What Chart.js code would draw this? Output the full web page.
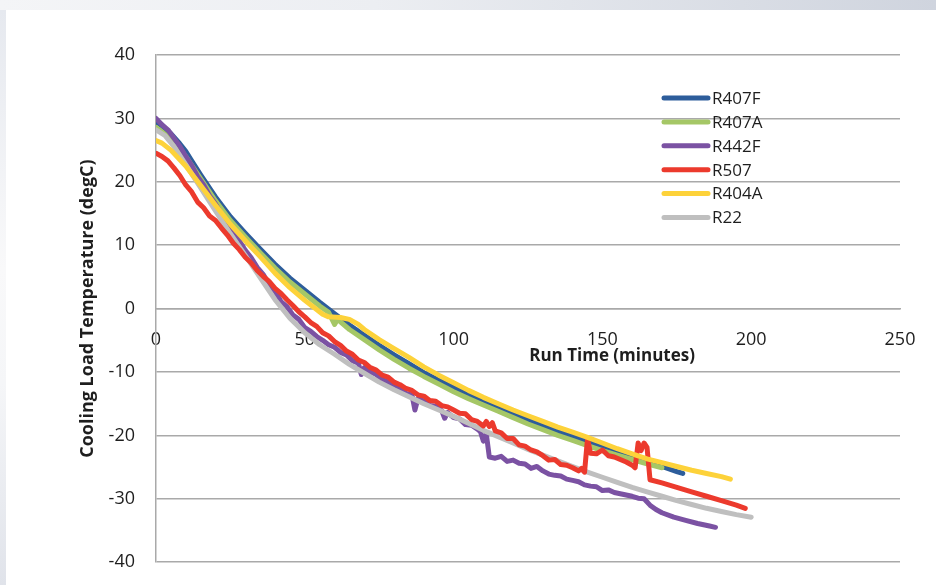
<!DOCTYPE html>
<html>
<head>
<meta charset="utf-8">
<script src="https://cdn.jsdelivr.net/npm/chart.js@4.4.1/dist/chart.umd.min.js"></script>
<style>
  html, body { margin: 0; padding: 0; }
  body {
    width: 936px; height: 585px; overflow: hidden; position: relative;
    background: linear-gradient(to right, #f4f5f7 0%, #eceef2 40%, #cfd4de 100%);
  }
  #edge {
    position: absolute; left: 0; top: 10px; width: 6px; height: 575px;
    background: linear-gradient(to bottom, #e6e9ef, #f9f9fa 45%, #f5f6f8 65%, #e0e3ea);
  }
  #panel { position: absolute; left: 6px; top: 10px; width: 930px; height: 575px; background: #fff; overflow: hidden; }
</style>
</head>
<body>
<div id="edge"></div>
<div id="panel"><canvas id="chart" width="930" height="584"></canvas></div>
<script>
// Data (minutes, degC)
const r407fMinutes = [0, 2, 5, 8, 10, 12, 15, 20, 25, 30, 35, 40, 45, 50, 55, 60, 65, 70, 75, 80, 85, 90, 95, 100, 105, 110, 115, 120, 125, 130, 135, 140, 145, 150, 155, 160, 165, 170, 175, 177]
const r407fTemp = [29.5, 28.8, 27.6, 26.0, 24.8, 23.3, 21.1, 17.6, 14.5, 11.9, 9.4, 7.0, 4.8, 2.9, 1.0, -0.8, -2.6, -4.2, -5.8, -7.3, -8.7, -10.1, -11.3, -12.5, -13.6, -14.7, -15.6, -16.6, -17.5, -18.4, -19.3, -20.1, -20.9, -21.7, -22.5, -23.3, -24.0, -24.9, -25.7, -26.0]

const r407aMinutes = [0, 2, 5, 8, 10, 12, 15, 20, 25, 30, 35, 40, 45, 50, 55, 58, 60, 61, 65, 70, 75, 80, 85, 90, 95, 100, 105, 110, 115, 120, 125, 130, 135, 140, 145, 150, 155, 160, 165, 170]
const r407aTemp = [28.6, 27.9, 26.7, 25.2, 24.0, 22.6, 20.5, 17.0, 13.9, 11.3, 8.8, 6.4, 4.2, 2.3, 0.4, -0.6, -2.5, -1.7, -3.3, -4.9, -6.5, -8.0, -9.4, -10.7, -11.9, -13.1, -14.2, -15.2, -16.2, -17.2, -18.2, -19.1, -20.0, -20.8, -21.6, -22.4, -23.1, -23.8, -24.5, -25.1]

const r442fMinutes = [0, 2, 4, 6, 8, 10, 12, 14, 16, 18, 20, 22, 24, 26, 28, 30, 32, 34, 36, 38, 40, 42, 44, 46, 48, 50, 52, 54, 56, 58, 60, 62, 64, 66, 68, 69, 70, 72, 74, 76, 78, 80, 82, 84, 86, 87, 88, 90, 92, 94, 96, 97, 98, 100, 102, 104, 106, 108, 109, 110, 111, 112, 114, 116, 118, 120, 122, 124, 126, 128, 130, 132, 134, 136, 138, 140, 142, 144, 146, 148, 150, 152, 154, 156, 158, 160, 162, 164, 166, 168, 170, 174, 178, 182, 186, 188]
const r442fTemp = [30.0, 29.0, 28.2, 26.9, 25.6, 24.0, 22.6, 20.8, 19.5, 17.8, 16.5, 14.9, 13.5, 12.0, 10.7, 9.2, 8.0, 6.5, 5.4, 3.8, 2.7, 1.1, 0.3, -1.0, -1.7, -3.0, -3.6, -4.4, -5.0, -5.7, -6.1, -6.9, -7.3, -8.2, -8.6, -10.4, -9.3, -10.0, -10.4, -11.2, -11.6, -12.3, -12.6, -13.4, -13.6, -16.0, -14.2, -14.6, -15.3, -15.4, -16.1, -17.3, -16.4, -17.2, -17.4, -18.3, -18.4, -19.0, -19.4, -20.9, -19.8, -23.4, -23.6, -23.3, -24.1, -23.9, -24.4, -24.5, -25.2, -24.9, -25.6, -26.1, -26.3, -26.4, -26.9, -27.1, -27.3, -27.8, -28.0, -28.1, -28.7, -28.6, -29.0, -29.2, -29.4, -29.6, -29.9, -30.0, -31.0, -31.7, -32.2, -32.9, -33.4, -33.9, -34.3, -34.5]

const r507Minutes = [0, 2, 4, 6, 8, 10, 12, 14, 16, 18, 20, 22, 24, 26, 28, 30, 32, 34, 36, 38, 40, 42, 44, 46, 48, 50, 52, 54, 56, 58, 60, 62, 64, 66, 68, 70, 72, 74, 76, 78, 80, 82, 84, 86, 88, 90, 92, 94, 96, 98, 100, 102, 104, 106, 108, 110, 111, 112, 113, 114, 116, 118, 120, 122, 124, 126, 128, 130, 132, 134, 136, 138, 140, 142, 143, 144, 145, 146, 148, 150, 152, 154, 156, 158, 160, 161, 162, 163, 164, 165, 166, 170, 175, 180, 185, 190, 195, 198]
const r507Temp = [24.5, 24.0, 23.3, 22.2, 21.0, 19.5, 18.4, 16.8, 15.9, 14.6, 13.9, 12.7, 11.6, 10.3, 9.3, 8.1, 7.2, 6.0, 5.1, 4.3, 3.2, 2.4, 1.4, 0.5, -0.5, -1.3, -2.2, -2.8, -3.8, -4.3, -5.2, -5.8, -6.7, -7.2, -8.1, -8.5, -9.3, -9.7, -10.5, -10.8, -11.6, -12.0, -12.6, -12.9, -13.6, -13.8, -14.5, -14.6, -15.3, -15.5, -16.0, -16.5, -16.6, -17.5, -17.8, -18.5, -17.8, -18.6, -18.0, -19.3, -19.6, -20.5, -20.5, -21.5, -21.7, -22.3, -22.6, -23.2, -23.9, -23.8, -24.6, -24.7, -25.1, -25.6, -25.2, -25.8, -20.5, -22.8, -22.9, -22.3, -23.2, -23.4, -23.8, -24.2, -24.7, -25.1, -21.2, -22.4, -21.2, -21.9, -27.0, -27.5, -28.2, -28.9, -29.6, -30.3, -31.0, -31.5]

const r404aMinutes = [0, 2, 5, 10, 15, 20, 25, 30, 35, 40, 45, 50, 53, 56, 58, 62, 65, 68, 70, 75, 80, 85, 90, 95, 100, 105, 110, 115, 120, 125, 130, 135, 140, 145, 150, 155, 160, 165, 170, 175, 180, 185, 190, 193]
const r404aTemp = [26.5, 26.1, 25.0, 22.5, 19.4, 16.3, 13.3, 10.7, 8.2, 5.6, 3.3, 1.3, 0.2, -0.9, -1.3, -1.4, -1.7, -2.5, -3.3, -4.9, -6.3, -7.7, -9.2, -10.5, -11.7, -12.9, -14.0, -15.0, -16.0, -16.9, -17.8, -18.7, -19.5, -20.3, -21.2, -22.1, -22.9, -23.7, -24.3, -24.9, -25.5, -26.0, -26.5, -26.9]

const r22Minutes = [0, 3, 6, 10, 14, 20, 25, 30, 35, 40, 45, 50, 55, 60, 65, 70, 75, 80, 85, 90, 95, 100, 105, 110, 115, 120, 125, 130, 135, 140, 145, 150, 155, 160, 165, 170, 175, 180, 185, 190, 195, 200]
const r22Temp = [28.2, 27.3, 25.6, 22.7, 19.8, 15.4, 11.8, 8.4, 4.9, 1.4, -1.5, -3.8, -5.7, -7.2, -8.8, -10.2, -11.6, -12.8, -13.9, -15.0, -16.0, -17.0, -18.1, -19.2, -20.2, -21.2, -22.2, -23.1, -24.0, -24.9, -25.8, -26.6, -27.4, -28.2, -28.9, -29.6, -30.3, -30.9, -31.5, -32.0, -32.5, -32.9]

const xTicks = [0, 50, 100, 150, 200, 250]
const yTicks = [-40, -30, -20, -10, 0, 10, 20, 30, 40]

const FONT = '"Open Sans", "DejaVu Sans", sans-serif'
const GRID = '#a9a9a9'
const TEXT = '#1e1e1e'

const toPoints = (minutes, temps) => minutes.map((m, i) => ({ x: m, y: temps[i] }))

const line = (label, minutes, temps, color, order) => ({
  label,
  data: toPoints(minutes, temps),
  borderColor: color,
  backgroundColor: color,
  borderWidth: 5,
  borderJoinStyle: 'round',
  borderCapStyle: 'round',
  pointRadius: 0,
  tension: 0,
  order,
})

// Legend drawn inside the plot, Excel style
const insideLegend = {
  id: 'insideLegend',
  afterDraw(chart) {
    const { ctx, chartArea } = chart
    const x0 = chartArea.right - 238
    const y0 = chartArea.top + 43
    ctx.save()
    ctx.font = `17px ${FONT}`
    ctx.textBaseline = 'middle'
    chart.data.datasets.forEach((ds, i) => {
      const y = y0 + i * 23.9
      ctx.strokeStyle = ds.borderColor
      ctx.lineWidth = 5
      ctx.lineCap = 'round'
      ctx.beginPath()
      ctx.moveTo(x0 + 2, y)
      ctx.lineTo(x0 + 46, y)
      ctx.stroke()
      ctx.fillStyle = TEXT
      ctx.fillText(ds.label, x0 + 50, y + 1)
    })
    ctx.restore()
  },
}

// X axis title sits right of centre, under the zero line
const xTitle = {
  id: 'xTitle',
  afterDraw(chart) {
    const { ctx, chartArea, scales } = chart
    const x = chartArea.left + (chartArea.right - chartArea.left) * 0.613
    const y = scales.y.getPixelForValue(0) + 48
    ctx.save()
    ctx.font = `bold 17px ${FONT}`
    ctx.fillStyle = TEXT
    ctx.textAlign = 'center'
    ctx.textBaseline = 'middle'
    ctx.fillText('Run Time (minutes)', x, y)
    ctx.restore()
  },
}

Chart.defaults.font.family = FONT
Chart.defaults.color = TEXT

new Chart(document.getElementById('chart'), {
  type: 'line',
  data: {
    datasets: [
      line('R407F', r407fMinutes, r407fTemp, '#2d5d9b', 6),
      line('R407A', r407aMinutes, r407aTemp, '#a5c766', 5),
      line('R442F', r442fMinutes, r442fTemp, '#7b52a3', 4),
      line('R507', r507Minutes, r507Temp, '#ec3a2d', 2),
      line('R404A', r404aMinutes, r404aTemp, '#fdd23a', 1),
      line('R22', r22Minutes, r22Temp, '#bfbfbf', 3),
    ],
  },
  options: {
    responsive: false,
    animation: false,
    layout: { padding: { top: 45, right: 36, bottom: 15, left: 0 } },
    plugins: { legend: { display: false }, tooltip: { enabled: false } },
    scales: {
      x: {
        type: 'linear',
        position: { y: 0 },
        min: 0,
        max: 250,
        afterBuildTicks: (s) => { s.ticks = xTicks.map((v) => ({ value: v })) },
        ticks: { font: { size: 18 }, color: TEXT, padding: 20, maxRotation: 0 },
        grid: { display: false, drawTicks: false },
        border: { display: true, color: GRID, width: 1.5 },
      },
      y: {
        min: -40,
        max: 40,
        afterBuildTicks: (s) => { s.ticks = yTicks.map((v) => ({ value: v })) },
        afterFit: (s) => { s.width = 150 },
        ticks: { font: { size: 18 }, color: TEXT, padding: 21 },
        grid: { color: GRID, lineWidth: 1.5, drawTicks: false },
        border: { display: true, color: GRID, width: 1.5 },
        title: {
          display: true,
          text: 'Cooling Load Temperature (degC)',
          font: { size: 18, weight: 'bold' },
          color: TEXT,
          padding: { top: 71, bottom: 0 },
        },
      },
    },
  },
  plugins: [insideLegend, xTitle],
})
</script>
</body>
</html>
